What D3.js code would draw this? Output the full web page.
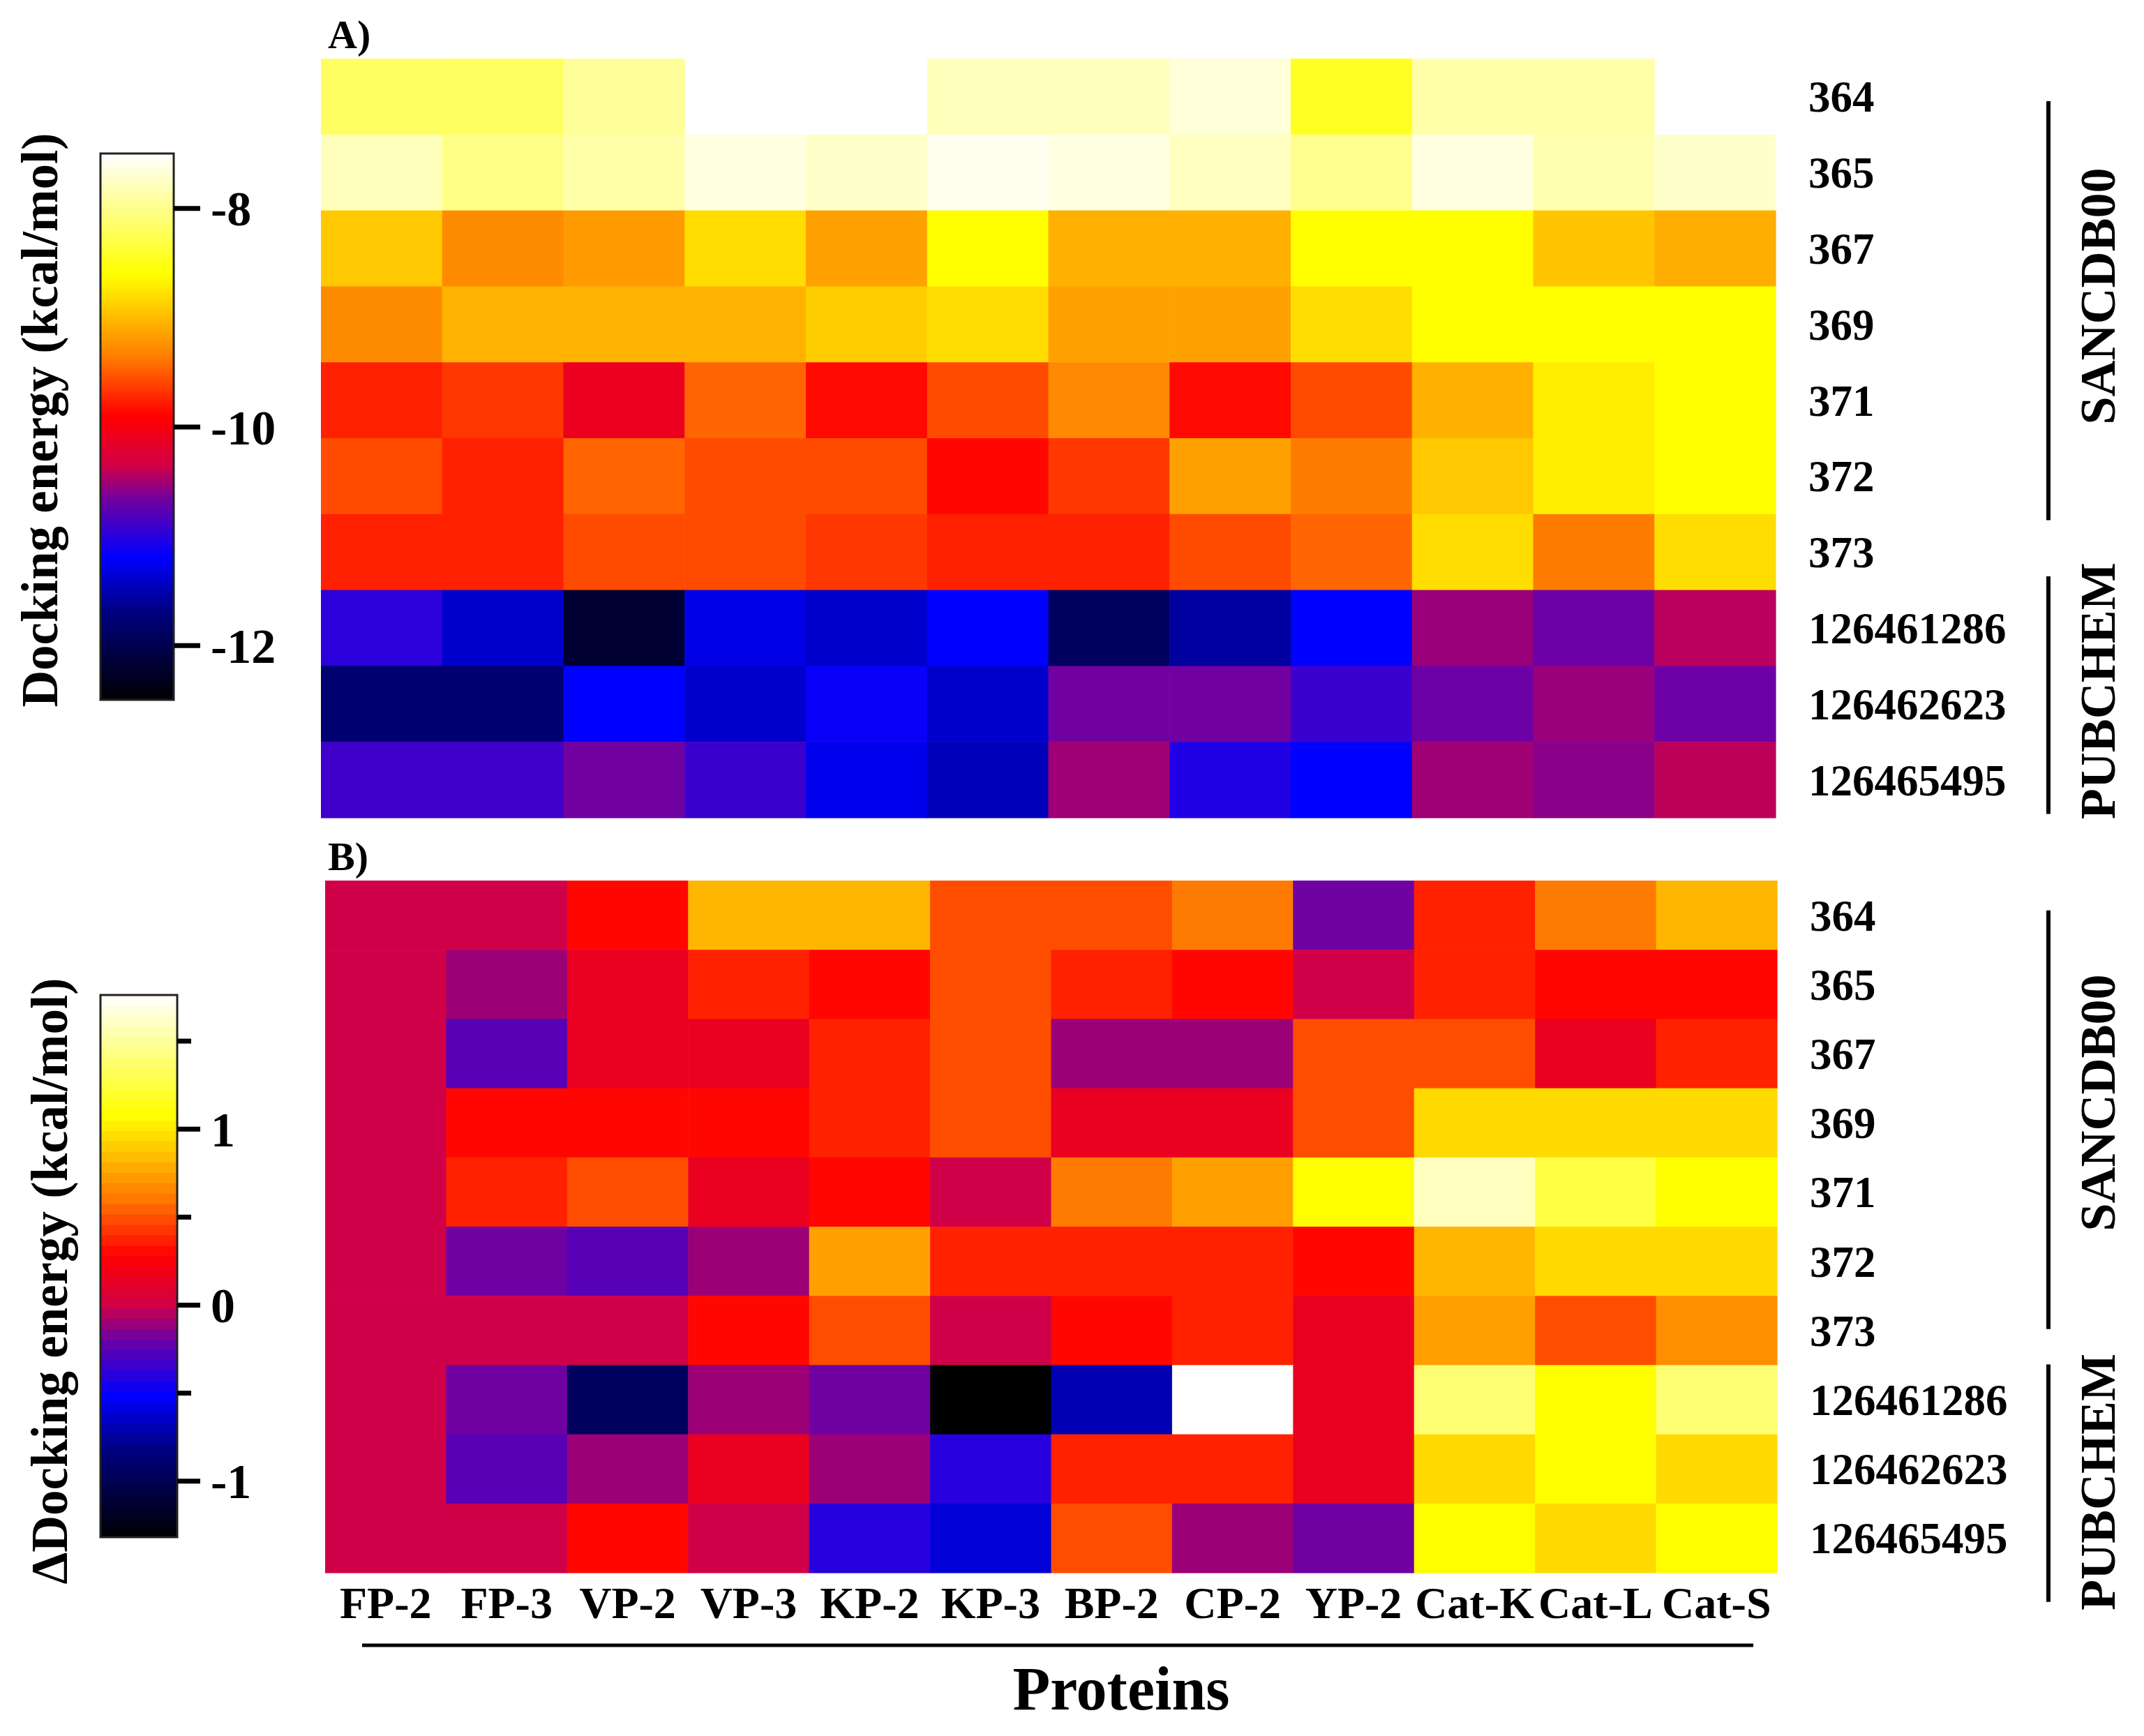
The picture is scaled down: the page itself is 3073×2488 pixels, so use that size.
<!DOCTYPE html>
<html>
<head>
<meta charset="utf-8">
<script src="https://cdn.jsdelivr.net/npm/d3@7"></script>
<style>
  body { margin: 0; background: #fff; }
  text { font-family: "Liberation Serif", "Times New Roman", serif; font-weight: bold; fill: #000; }
</style>
</head>
<body>
<div id="chart"></div>
<script>
// data

const proteins = ["FP-2", "FP-3", "VP-2", "VP-3", "KP-2", "KP-3", "BP-2", "CP-2", "YP-2", "Cat-K", "Cat-L", "Cat-S"];
const compounds = ["364", "365", "367", "369", "371", "372", "373", "126461286", "126462623", "126465495"];

// A) docking energy (kcal/mol), null = no value (blank cell)
const energyA = [
    [-8.17, -8.18, -7.94, null, null, -7.79, -7.79, -7.67, -8.45, -7.87, -7.87, null],
    [-7.79, -8.02, -7.87, -7.63, -7.73, -7.57, -7.63, -7.77, -7.98, -7.64, -7.84, -7.72],
    [-8.92, -9.27, -9.18, -8.80, -9.15, -8.60, -9.06, -9.06, -8.60, -8.60, -8.94, -9.08],
    [-9.27, -9.04, -9.04, -9.04, -8.90, -8.80, -9.15, -9.15, -8.80, -8.60, -8.60, -8.60],
    [-9.76, -9.66, -10.10, -9.46, -9.86, -9.57, -9.29, -9.86, -9.57, -9.06, -8.70, -8.60],
    [-9.57, -9.76, -9.46, -9.57, -9.57, -9.87, -9.66, -9.15, -9.36, -8.92, -8.70, -8.60],
    [-9.76, -9.76, -9.57, -9.57, -9.66, -9.76, -9.76, -9.57, -9.46, -8.80, -9.36, -8.80],
    [-10.99, -11.39, -12.18, -11.28, -11.39, -11.19, -11.89, -11.56, -11.19, -10.53, -10.68, -10.43],
    [-11.79, -11.79, -11.19, -11.39, -11.15, -11.39, -10.66, -10.66, -10.91, -10.68, -10.53, -10.68],
    [-10.89, -10.89, -10.66, -10.91, -11.26, -11.47, -10.51, -11.04, -11.19, -10.51, -10.58, -10.42]
];

// B) delta docking energy (kcal/mol)
const deltaB = [
    [0, 0, 0.30, 0.82, 0.82, 0.49, 0.49, 0.61, -0.19, 0.37, 0.61, 0.82],
    [0, -0.10, 0.15, 0.37, 0.30, 0.49, 0.37, 0.30, 0, 0.37, 0.30, 0.30],
    [0, -0.26, 0.15, 0.15, 0.37, 0.49, -0.10, -0.10, 0.49, 0.49, 0.15, 0.37],
    [0, 0.30, 0.30, 0.30, 0.37, 0.49, 0.15, 0.15, 0.49, 0.95, 0.95, 0.95],
    [0, 0.37, 0.49, 0.15, 0.30, 0, 0.61, 0.74, 1.08, 1.59, 1.26, 1.08],
    [0, -0.19, -0.26, -0.10, 0.74, 0.37, 0.37, 0.37, 0.30, 0.82, 0.95, 0.95],
    [0, 0, 0, 0.30, 0.49, 0, 0.30, 0.37, 0.15, 0.74, 0.49, 0.68],
    [0, -0.19, -0.95, -0.10, -0.19, -1.32, -0.70, 1.76, 0.15, 1.39, 1.08, 1.39],
    [0, -0.26, -0.10, 0.15, -0.10, -0.40, 0.37, 0.37, 0.15, 0.95, 1.08, 0.95],
    [0, 0, 0.30, 0, -0.40, -0.61, 0.49, -0.10, -0.19, 1.08, 0.95, 1.08]
];

const groupNames = ["SANCDB00", "PUBCHEM"];
const ticksA = [-8, -10, -12];
const ticksBMajor = [1, 0, -1];
const ticksBMinor = [1.5, 0.5, -0.5];

// colour map (fraction of range -> colour)
const cmapPos = [0, 0.162, 0.262, 0.368, 0.43, 0.52, 0.632, 0.78, 1];
const cmapCol = ["#000000", "#000080", "#0000ff", "#7000a0", "#d20046", "#ff0000", "#ff8000", "#ffff00", "#ffffff"];


const width = 3073, height = 2488;

const svg = d3.select("#chart")
    .append("svg")
    .attr("width", width)
    .attr("height", height);

function makeColor(vmin, vmax) {
    return d3.scaleLinear()
        .domain(cmapPos.map(p => vmin + p * (vmax - vmin)))
        .range(cmapCol)
        .interpolate(d3.interpolateRgb)
        .clamp(true);
}

function Panel(cfg) {
    const g = svg.append("g");

    const x = d3.scaleBand().domain(proteins).range([cfg.x0, cfg.x1]);
    const y = d3.scaleBand().domain(compounds).range([cfg.y0, cfg.y1]);
    const color = makeColor(cfg.vmin, cfg.vmax);

    // cells
    const cells = [];
    cfg.values.forEach((row, i) => {
        row.forEach((v, j) => {
            if (v !== null) cells.push({ c: compounds[i], p: proteins[j], v: v });
        });
    });

    g.append("g")
        .selectAll("rect")
        .data(cells)
        .join("rect")
        .attr("x", d => x(d.p))
        .attr("y", d => y(d.c))
        .attr("width", x.bandwidth() + 0.6)
        .attr("height", y.bandwidth() + 0.6)
        .attr("fill", d => color(d.v));

    // row labels on the right
    const rowAxis = g.append("g")
        .attr("transform", `translate(${cfg.x1}, 0)`)
        .call(d3.axisRight(y).tickSize(0).tickPadding(47));
    rowAxis.select(".domain").remove();
    rowAxis.selectAll("text")
        .attr("font-size", 63)
        .attr("font-family", null)
        .attr("dy", "0.35em");

    // panel letter
    g.append("text")
        .attr("x", 470)
        .attr("y", cfg.y0 - 15)
        .attr("font-size", 58)
        .text(cfg.letter);

    // group brackets
    const rowH = y.step();
    cfg.groups.forEach((gr, k) => {
        const ya = cfg.y0 + gr[0] * rowH, yb = cfg.y0 + gr[1] * rowH;
        g.append("line")
            .attr("x1", 2936).attr("x2", 2936)
            .attr("y1", ya).attr("y2", yb)
            .attr("stroke", "#000")
            .attr("stroke-width", 6);
        const yc = cfg.y0 + gr[2] * rowH;
        g.append("text")
            .attr("transform", `translate(3031, ${yc}) rotate(-90)`)
            .attr("text-anchor", "middle")
            .attr("font-size", 72)
            .text(groupNames[k]);
    });

    // colour bar
    const cb = d3.scaleLinear().domain([cfg.vmin, cfg.vmax]).range([cfg.cb1, cfg.cb0]);
    const nb = cfg.bands;
    const step = (cfg.vmax - cfg.vmin) / nb;
    const bands = d3.range(nb).map(k => cfg.vmin + k * step);
    g.append("g")
        .selectAll("rect")
        .data(bands)
        .join("rect")
        .attr("x", 144)
        .attr("width", cfg.cbw)
        .attr("y", d => cb(d + step))
        .attr("height", d => cb(d) - cb(d + step) + 0.8)
        .attr("fill", d => color(d + step / 2));
    g.append("rect")
        .attr("x", 144).attr("y", cfg.cb0)
        .attr("width", cfg.cbw).attr("height", cfg.cb1 - cfg.cb0)
        .attr("fill", "none")
        .attr("stroke", "#222")
        .attr("stroke-width", 3);

    cfg.tickSets.forEach(ts => {
        const ax = g.append("g")
            .attr("transform", `translate(${144 + cfg.cbw}, 0)`)
            .call(d3.axisRight(cb).tickValues(ts.values).tickSize(ts.size).tickPadding(15)
                .tickFormat(ts.label ? (d => String(d)) : ""));
        ax.select(".domain").remove();
        ax.selectAll("line").attr("stroke", "#000").attr("stroke-width", 7);
        ax.selectAll("text")
            .attr("font-size", 70)
            .attr("font-family", null)
            .attr("dy", "0.35em");
    });

    g.append("text")
        .attr("transform", `translate(${cfg.titleX}, ${cfg.titleY}) rotate(-90)`)
        .attr("text-anchor", "middle")
        .attr("font-size", 73)
        .text(cfg.title);

    return { x, y };
}

Panel({
    letter: "A)",
    values: energyA,
    x0: 460, x1: 2545, y0: 84, y1: 1172,
    vmin: -12.5, vmax: -7.5,
    cb0: 220, cb1: 1003, cbw: 105, bands: 200,
    tickSets: [{ values: ticksA, size: 38, label: true }],
    title: "Docking energy (kcal/mol)", titleX: 82, titleY: 602,
    groups: [[0.56, 6.08, 3.13], [6.82, 9.95, 8.33]]
});

const pb = Panel({
    letter: "B)",
    values: deltaB,
    x0: 466, x1: 2547, y0: 1262, y1: 2254,
    vmin: -1.32, vmax: 1.76,
    cb0: 1426, cb1: 2203, cbw: 110, bands: 52,
    tickSets: [{ values: ticksBMinor, size: 20, label: false }, { values: ticksBMajor, size: 33, label: true }],
    title: "\u0394Docking energy (kcal/mol)", titleX: 96, titleY: 1836,
    groups: [[0.43, 6.48, 3.21], [6.99, 10.42, 8.69]]
});

// protein axis under panel B
const xAxis = svg.append("g")
    .attr("transform", `translate(0, 2254)`)
    .call(d3.axisBottom(pb.x).tickSize(0).tickPadding(20));
xAxis.select(".domain").remove();
xAxis.selectAll("text")
    .attr("font-size", 64)
    .attr("font-family", null)
    .attr("dy", "0.71em");

svg.append("line")
    .attr("x1", 519).attr("x2", 2513)
    .attr("y1", 2358).attr("y2", 2358)
    .attr("stroke", "#000")
    .attr("stroke-width", 5);

svg.append("text")
    .attr("x", 1607)
    .attr("y", 2450)
    .attr("text-anchor", "middle")
    .attr("font-size", 88)
    .text("Proteins");
</script>
</body>
</html>
